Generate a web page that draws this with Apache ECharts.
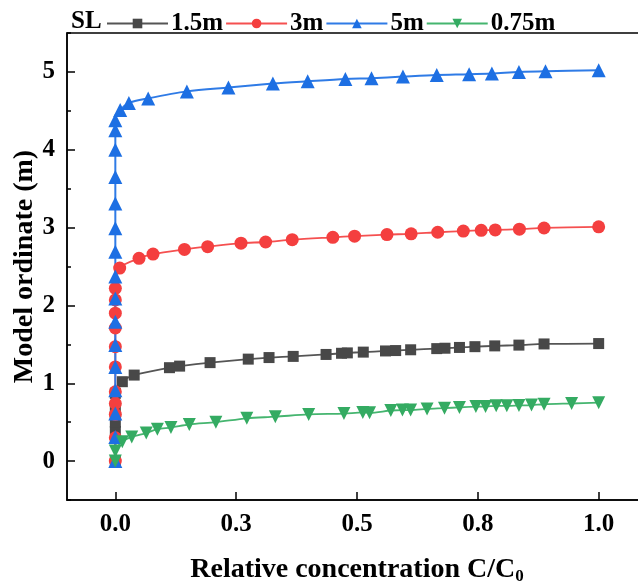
<!DOCTYPE html>
<html lang="en">
<head>
    <meta charset="UTF-8">
    <title>SL curves</title>
    <script src="https://cdn.jsdelivr.net/npm/echarts@6.0.0/dist/echarts.min.js"></script>
</head>
<body style="margin:0">
<div id="main" style="width: 638px;height:585px;"></div>
<script>
    // data
    var names = ['1.5m', '3m', '5m', '0.75m'];
    var xTicks = [0, 0.25, 0.5, 0.75, 1];
    var yTicks = [0, 1, 2, 3, 4, 5];

    var grayX = [0, 0, 0, 0, 0, 0.0145, 0.039, 0.112, 0.133, 0.196, 0.275, 0.318, 0.368, 0.436, 0.468, 0.48, 0.513, 0.559, 0.58, 0.611, 0.665, 0.682, 0.712, 0.744, 0.785, 0.835, 0.887, 1.0];
    var grayY = [0, 0.38, 0.5, 0.66, 0.87, 1.02, 1.105, 1.20, 1.22, 1.265, 1.31, 1.33, 1.345, 1.37, 1.385, 1.39, 1.40, 1.415, 1.42, 1.43, 1.445, 1.45, 1.46, 1.47, 1.48, 1.49, 1.505, 1.51];

    var redX = [0, 0, 0, 0, 0, 0, 0, 0, 0, 0, 0, 0.009, 0.049, 0.078, 0.143, 0.191, 0.26, 0.311, 0.366, 0.45, 0.495, 0.562, 0.612, 0.667, 0.72, 0.757, 0.786, 0.836, 0.887, 1.0];
    var redY = [0, 0.3, 0.6, 0.74, 0.89, 1.21, 1.47, 1.71, 1.90, 2.07, 2.22, 2.48, 2.605, 2.66, 2.72, 2.755, 2.80, 2.815, 2.845, 2.875, 2.89, 2.91, 2.92, 2.94, 2.955, 2.965, 2.97, 2.98, 2.995, 3.01];

    var blueX = [0, 0, 0, 0, 0, 0, 0, 0, 0, 0, 0, 0, 0, 0, 0, 0, 0.01, 0.028, 0.068, 0.148, 0.234, 0.326, 0.398, 0.476, 0.530, 0.595, 0.665, 0.732, 0.779, 0.835, 0.89, 1.0];
    var blueY = [0, 0.31, 0.61, 0.91, 1.21, 1.49, 1.79, 2.09, 2.37, 2.69, 2.99, 3.31, 3.65, 4.0, 4.25, 4.38, 4.51, 4.60, 4.66, 4.75, 4.80, 4.85, 4.88, 4.91, 4.92, 4.94, 4.96, 4.97, 4.98, 5.0, 5.01, 5.02];

    var greenX = [0, 0, 0.0145, 0.034, 0.064, 0.087, 0.115, 0.153, 0.208, 0.272, 0.331, 0.40, 0.473, 0.512, 0.526, 0.570, 0.594, 0.611, 0.645, 0.681, 0.712, 0.746, 0.766, 0.788, 0.810, 0.835, 0.861, 0.887, 0.944, 1.0];
    var greenY = [0, 0.13, 0.25, 0.31, 0.36, 0.41, 0.43, 0.47, 0.50, 0.55, 0.57, 0.60, 0.61, 0.625, 0.62, 0.65, 0.655, 0.655, 0.67, 0.68, 0.69, 0.70, 0.70, 0.71, 0.71, 0.715, 0.72, 0.73, 0.74, 0.75];

    function pairs(xs, ys) {
        var out = [];
        for (var i = 0; i < xs.length; i++) out.push([xs[i], ys[i]]);
        return out;
    }

    var font = '"Liberation Serif", "Times New Roman", serif';
    var myChart = echarts.init(document.getElementById('main'));

    var option = {
        animation: false,
        title: {
            text: 'SL',
            left: 66,
            top: 4,
            textStyle: {fontFamily: font, fontSize: 25, fontWeight: 'bold', color: '#000'}
        },
        legend: {
            left: 101,
            top: 6,
            itemWidth: 61,
            itemHeight: 12,
            itemGap: 2,
            data: names,
            textStyle: {fontFamily: font, fontSize: 25, fontWeight: 'bold', color: '#000', padding: [0, 0, 0, -2]}
        },
        grid: {
            left: 67,
            top: 33,
            width: 580,
            height: 467,
            outerBoundsMode: 'none',
            containLabel: false,
            show: true,
            borderColor: '#000',
            borderWidth: 1.5
        },
        xAxis: {
            type: 'value',
            min: -0.1,
            max: 1.1,
            name: 'Relative concentration C/C{sub|0}',
            nameLocation: 'middle',
            nameGap: 54,
            nameMoveOverlap: false,
            nameTextStyle: {
                fontFamily: font, fontSize: 28, fontWeight: 'bold', color: '#000',
                rich: {sub: {fontFamily: font, fontSize: 17, fontWeight: 'bold', color: '#000', verticalAlign: 'bottom', padding: [14, 0, 0, 0]}}
            },
            axisLine: {onZero: false, lineStyle: {color: '#000', width: 1.5}},
            axisTick: {inside: true, length: 8, customValues: xTicks, lineStyle: {color: '#000', width: 1.5}},
            axisLabel: {
                customValues: xTicks,
                margin: 12,
                fontFamily: font, fontSize: 25, fontWeight: 'bold', color: '#000',
                formatter: function (v) { return v.toFixed(1); }
            },
            splitLine: {show: false}
        },
        yAxis: [{
            type: 'value',
            min: -0.5,
            max: 5.5,
            name: 'Model ordinate (m)',
            nameLocation: 'middle',
            nameGap: 28,
            nameMoveOverlap: false,
            nameTextStyle: {fontFamily: font, fontSize: 28, fontWeight: 'bold', color: '#000'},
            axisLine: {onZero: false, lineStyle: {color: '#000', width: 1.5}},
            axisTick: {inside: true, length: 8, customValues: yTicks, lineStyle: {color: '#000', width: 1.5}},
            axisLabel: {
                customValues: yTicks,
                margin: 12,
                fontFamily: font, fontSize: 25, fontWeight: 'bold', color: '#000'
            },
            splitLine: {show: false}
        }, {
            // half-step minor ticks
            type: 'value',
            position: 'left',
            min: -0.5,
            max: 5.5,
            interval: 0.5,
            axisLine: {show: false, onZero: false},
            axisTick: {inside: true, length: 4, lineStyle: {color: '#000', width: 1.5}},
            axisLabel: {show: false},
            splitLine: {show: false}
        }],
        series: [
            {
                name: names[0], type: 'line', smooth: 0.3,
                symbol: 'rect', symbolSize: 11,
                itemStyle: {color: '#484848'},
                lineStyle: {color: '#555555', width: 1.8},
                data: pairs(grayX, grayY)
            },
            {
                name: names[1], type: 'line', smooth: 0.3,
                symbol: 'circle', symbolSize: 13,
                itemStyle: {color: '#f43f3f'},
                lineStyle: {color: '#f55050', width: 1.8},
                data: pairs(redX, redY)
            },
            {
                name: names[2], type: 'line', smooth: 0.3,
                symbol: 'triangle', symbolSize: 14,
                itemStyle: {color: '#1d6fe3'},
                lineStyle: {color: '#2f7be6', width: 2},
                data: pairs(blueX, blueY)
            },
            {
                name: names[3], type: 'line', smooth: 0.3,
                symbol: 'triangle', symbolSize: 13, symbolRotate: 180,
                itemStyle: {color: '#34ab62'},
                lineStyle: {color: '#45b56f', width: 1.8},
                data: pairs(greenX, greenY)
            }
        ]
    };
    myChart.setOption(option);
</script>
</body>
</html>
